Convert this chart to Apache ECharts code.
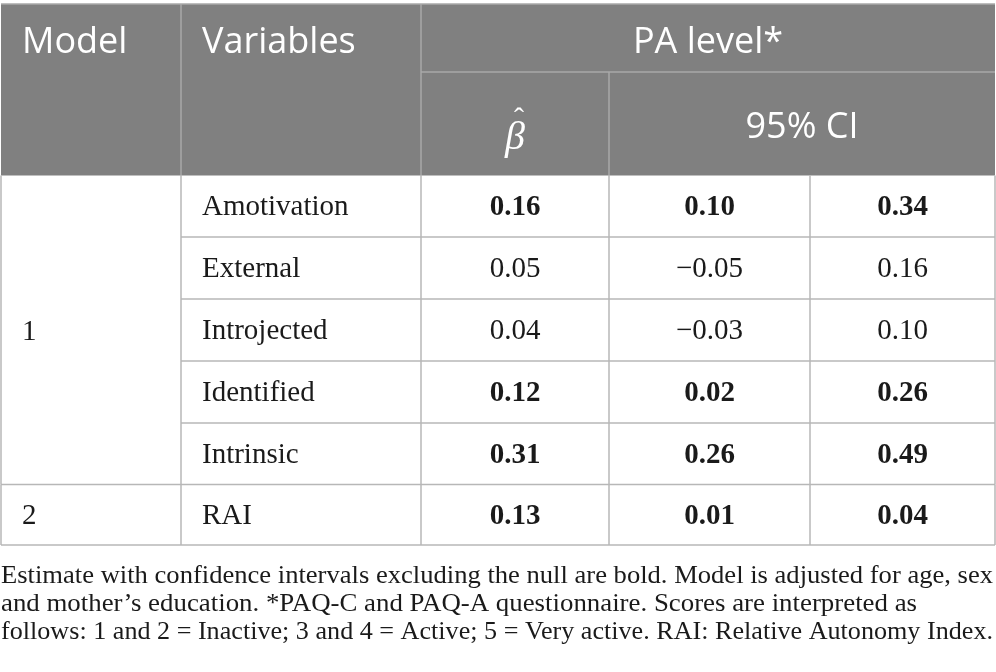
<!DOCTYPE html>
<html>
<head>
<meta charset="utf-8">
<script src="https://cdn.jsdelivr.net/npm/echarts@6/dist/echarts.min.js"></script>
<style>
html,body{margin:0;padding:0;background:#fff;}
#chart{width:996px;height:672px;}
</style>
</head>
<body>
<div id="chart"></div>
<script>
// ---------- data ----------
const headerTop = ['Model', 'Variables', 'PA level*'];
const headerSub = ['β', '95% CI'];
const models = ['1', '2'];
const modelSpans = [[0, 4], [5, 5]];
const variables = ['Amotivation', 'External', 'Introjected', 'Identified', 'Intrinsic', 'RAI'];
const beta = [0.16, 0.05, 0.04, 0.12, 0.31, 0.13];
const ciLow = [0.10, -0.05, -0.03, 0.02, 0.26, 0.01];
const ciHigh = [0.34, 0.16, 0.10, 0.26, 0.49, 0.04];
const isBold = [true, false, false, true, true, true];
const footnote = [
  'Estimate with confidence intervals excluding the null are bold. Model is adjusted for age, sex',
  'and mother\u2019s education. *PAQ-C and PAQ-A questionnaire. Scores are interpreted as',
  'follows: 1 and 2 = Inactive; 3 and 4 = Active; 5 = Very active. RAI: Relative Autonomy Index.'
];

// ---------- layout ----------
const colX = [1, 181, 421, 609, 810, 995];
const headTop = 4, headMid = 72, headBot = 175.5;
const rowY = [175.5, 237, 299, 361, 423, 484.5, 545];
const footBase = [589, 617, 645];
const footWidth = [992, 916, 992];
const headBg = '#808080', headLine = '#a9a9a9', bodyLine = '#b7b7b7', ink = '#1a1a1a';
const sansFont = '36px "Open Sans", "Noto Sans", sans-serif';
const serif = '"Liberation Serif", "Times New Roman", serif';
const bodySize = '29px ';

function fmt(v) { return v.toFixed(2).replace('-', '\u2212'); }

const chart = echarts.init(document.getElementById('chart'), null, {renderer: 'canvas'});

function line(api, x1, y1, x2, y2, color, w) {
  const p1 = api.coord([x1, y1]), p2 = api.coord([x2, y2]);
  return {type: 'line', shape: {x1: p1[0], y1: p1[1], x2: p2[0], y2: p2[1]},
          style: {stroke: color, lineWidth: w}, silent: true};
}
function txt(api, s, x, y, font, color, align) {
  const p = api.coord([x, y]);
  return {type: 'text', style: {text: s, x: p[0], y: p[1], font: font, fill: color,
          align: align || 'center', verticalAlign: 'middle'}, silent: true};
}

function renderHeader(params, api) {
  const tl = api.coord([colX[0], headTop]), br = api.coord([colX[5], headBot]);
  const ch = [];
  ch.push({type: 'rect', shape: {x: tl[0], y: tl[1], width: br[0] - tl[0], height: br[1] - tl[1]},
           style: {fill: headBg}, silent: true});
  ch.push(line(api, colX[0], headTop, colX[5], headTop, headLine, 1.5));
  ch.push(line(api, colX[1], headTop, colX[1], headBot, headLine, 1.5));
  ch.push(line(api, colX[2], headTop, colX[2], headBot, headLine, 1.5));
  ch.push(line(api, colX[2], headMid, colX[5], headMid, headLine, 1.5));
  ch.push(line(api, colX[3], headMid, colX[3], headBot, headLine, 1.5));
  const y1 = (headTop + headMid) / 2 + 5;
  ch.push(txt(api, headerTop[0], colX[0] + 21, y1, sansFont, '#fff', 'left'));
  ch.push(txt(api, headerTop[1], colX[1] + 21, y1, sansFont, '#fff', 'left'));
  ch.push(txt(api, headerTop[2], (colX[2] + colX[5]) / 2, y1, sansFont, '#fff'));
  const y2 = (headMid + headBot) / 2 + 4;
  const bx = (colX[2] + colX[3]) / 2;
  ch.push(txt(api, headerSub[0], bx, y2 + 11, 'italic 40px ' + serif, '#fff'));
  ch.push(txt(api, '\u02C6', bx + 4, y2 - 8, '30px ' + serif, '#fff'));
  ch.push(txt(api, headerSub[1], (colX[3] + colX[5]) / 2, y2, sansFont, '#fff'));
  return {type: 'group', children: ch};
}

function renderRow(params, api) {
  const r = params.dataIndex;
  const top = rowY[r], bot = rowY[r + 1];
  const cy = (top + bot) / 2 + 1.5;
  const ch = [];
  for (let c = 0; c < colX.length; c++) {
    ch.push(line(api, colX[c], top, colX[c], bot, bodyLine, 1.5));
  }
  let groupEnd = false;
  modelSpans.forEach(function (s) { if (s[1] === r) groupEnd = true; });
  ch.push(line(api, groupEnd ? colX[0] : colX[1], bot, colX[5], bot, bodyLine, 1.5));
  modelSpans.forEach(function (s, i) {
    if (s[0] === r) {
      const my = (rowY[s[0]] + rowY[s[1] + 1]) / 2 + 2;
      ch.push(txt(api, models[i], colX[0] + 21, my, bodySize + serif, ink, 'left'));
    }
  });
  const f = (isBold[r] ? 'bold ' : '') + bodySize + serif;
  ch.push(txt(api, variables[r], colX[1] + 21, cy, bodySize + serif, ink, 'left'));
  ch.push(txt(api, fmt(beta[r]), (colX[2] + colX[3]) / 2, cy, f, ink));
  ch.push(txt(api, fmt(ciLow[r]), (colX[3] + colX[4]) / 2, cy, f, ink));
  ch.push(txt(api, fmt(ciHigh[r]), (colX[4] + colX[5]) / 2, cy, f, ink));
  return {type: 'group', children: ch};
}

const mctx = document.createElement('canvas').getContext('2d');
const footFont = '25px ' + serif;
mctx.font = footFont;
const footGraphics = footnote.map(function (s, i) {
  const w = mctx.measureText(s).width;
  return {type: 'text', x: 1, y: footBase[i], scaleX: footWidth[i] / w, scaleY: 1,
          style: {text: s, x: 0, y: 0, font: footFont, fill: ink, align: 'left', verticalAlign: 'bottom'},
          silent: true};
});

chart.setOption({
  animation: false,
  grid: {left: 0, right: 0, top: 0, bottom: 0},
  xAxis: {type: 'value', min: 0, max: 996, show: false},
  yAxis: {type: 'value', min: 0, max: 672, inverse: true, show: false},
  series: [
    {type: 'custom', name: 'header', renderItem: renderHeader, data: [[0, 0]], silent: true, clip: false},
    {type: 'custom', name: 'rows', renderItem: renderRow,
     data: variables.map(function (v, i) { return [i, beta[i], ciLow[i], ciHigh[i]]; }),
     silent: true, clip: false}
  ],
  graphic: footGraphics
});
</script>
</body>
</html>
